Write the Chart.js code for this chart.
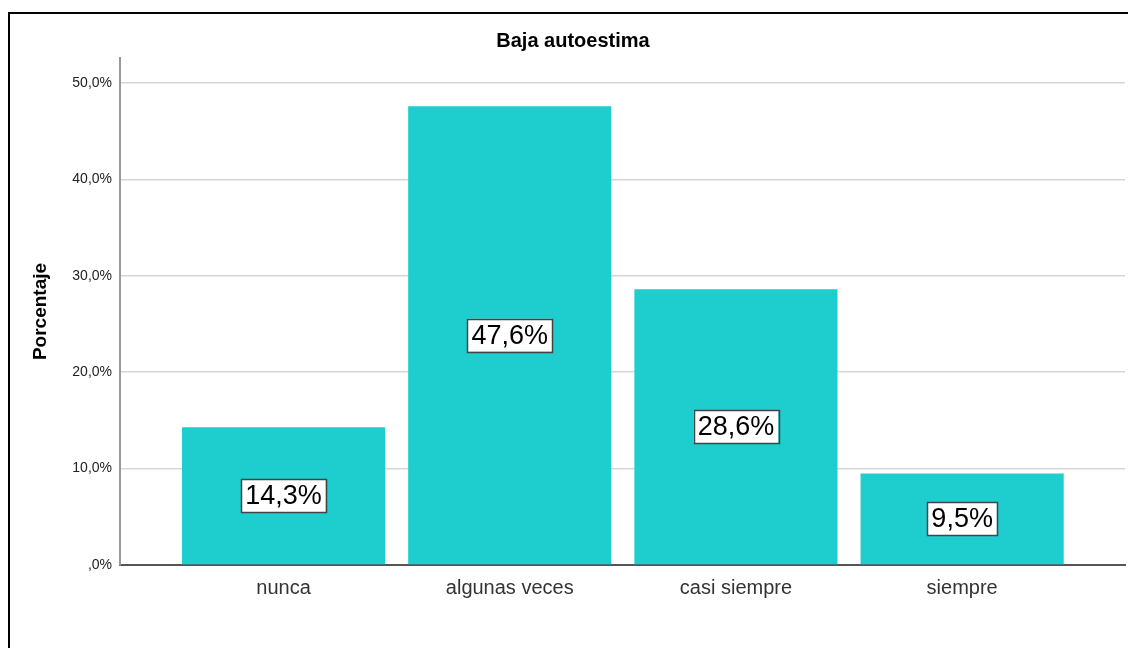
<!DOCTYPE html>
<html>
<head>
<meta charset="utf-8">
<script src="https://cdn.jsdelivr.net/npm/chart.js@4.4.1/dist/chart.umd.min.js"></script>
<style>
  body { margin: 0; background: #fff; overflow: hidden; }
  #wrap { position: absolute; left: 0; top: 0; width: 1128px; height: 648px; }
  #frame { position: absolute; left: 8px; top: 12px; width: 1300px; height: 800px; border: 2px solid #000; z-index: 2; pointer-events: none; }
</style>
</head>
<body>
<div id="wrap"><canvas id="graph" width="1128" height="648"></canvas></div>
<div id="frame"></div>
<script>
// Data
const categories = ["nunca", "algunas veces", "casi siempre", "siempre"];
const percentages = [14.3, 47.6, 28.6, 9.5];
const valueLabels = ["14,3%", "47,6%", "28,6%", "9,5%"];
const yTicks = [0, 10, 20, 30, 40, 50];
const yTickLabels = [",0%", "10,0%", "20,0%", "30,0%", "40,0%", "50,0%"];

const FONT = "'Liberation Sans', Arial, sans-serif";

// Boxed value labels in the middle of each bar
const boxLabels = {
    id: "boxLabels",
    afterDatasetsDraw(chart) {
        const ctx = chart.ctx;
        const meta = chart.getDatasetMeta(0);
        ctx.save();
        ctx.font = "27px " + FONT;
        ctx.textAlign = "center";
        ctx.textBaseline = "middle";
        meta.data.forEach((bar, i) => {
            const txt = valueLabels[i];
            const cy = (bar.y + bar.base) / 2;
            const w = ctx.measureText(txt).width + 8;
            const h = 33;
            ctx.fillStyle = "#fff";
            ctx.fillRect(bar.x - w/2, cy - h/2, w, h);
            ctx.strokeStyle = "#444";
            ctx.lineWidth = 1.5;
            ctx.strokeRect(Math.round(bar.x - w/2) + 0.5, Math.round(cy - h/2) + 0.5, Math.round(w), h);
            ctx.fillStyle = "#000";
            ctx.fillText(txt, bar.x, cy + 1);
        });
        ctx.restore();
    }
};

const whiteBg = {
    id: "whiteBg",
    beforeDraw(chart) {
        const ctx = chart.ctx;
        ctx.save();
        ctx.fillStyle = "#fff";
        ctx.fillRect(0, 0, chart.width, chart.height);
        ctx.restore();
    }
};

new Chart("graph", {
    type: "bar",
    data: {
        datasets: [{
            data: percentages.map((v, i) => ({x: i, y: v})),
            backgroundColor: "#1ECDCD",
            borderWidth: 0,
            categoryPercentage: 1,
            barPercentage: 0.898
        }]
    },
    options: {
        responsive: false,
        animation: {duration: 0},
        layout: {padding: {left: 21, right: 3, top: 0, bottom: 0}},
        plugins: {
            legend: {display: false},
            tooltip: {enabled: false},
            title: {
                display: true,
                text: "Baja autoestima",
                color: "#000",
                font: {family: FONT, size: 20, weight: "bold"},
                padding: {top: 29, bottom: 5}
            }
        },
        scales: {
            x: {
                type: "linear",
                offset: false,
                min: -0.723,
                max: 3.72,
                grid: {display: false, drawTicks: false, offset: false},
                border: {display: true, color: "#555", width: 2},
                afterBuildTicks: (s) => { s.ticks = categories.map((c, i) => ({value: i})); },
                afterFit: (s) => { s.height = 83; },
                ticks: {
                    padding: 11,
                    color: "#333",
                    font: {family: FONT, size: 20},
                    callback: (v) => categories[v] ?? ""
                }
            },
            y: {
                min: 0,
                max: 52.6,
                afterBuildTicks: (s) => { s.ticks = yTicks.map(v => ({value: v})); },
                afterFit: (s) => { s.width = 99; },
                grid: {color: "#d6d6d6", lineWidth: 1.5, drawTicks: false},
                border: {display: true, color: "#999", width: 2},
                title: {
                    display: true,
                    text: "Porcentaje",
                    color: "#000",
                    font: {family: FONT, size: 19, weight: "bold"},
                    padding: {top: 8, bottom: 0}
                },
                ticks: {
                    padding: 8,
                    color: "#222",
                    font: {family: FONT, size: 14},
                    callback: (v) => yTickLabels[yTicks.indexOf(v)] ?? ""
                }
            }
        }
    },
    plugins: [whiteBg, boxLabels]
});
</script>
</body>
</html>
